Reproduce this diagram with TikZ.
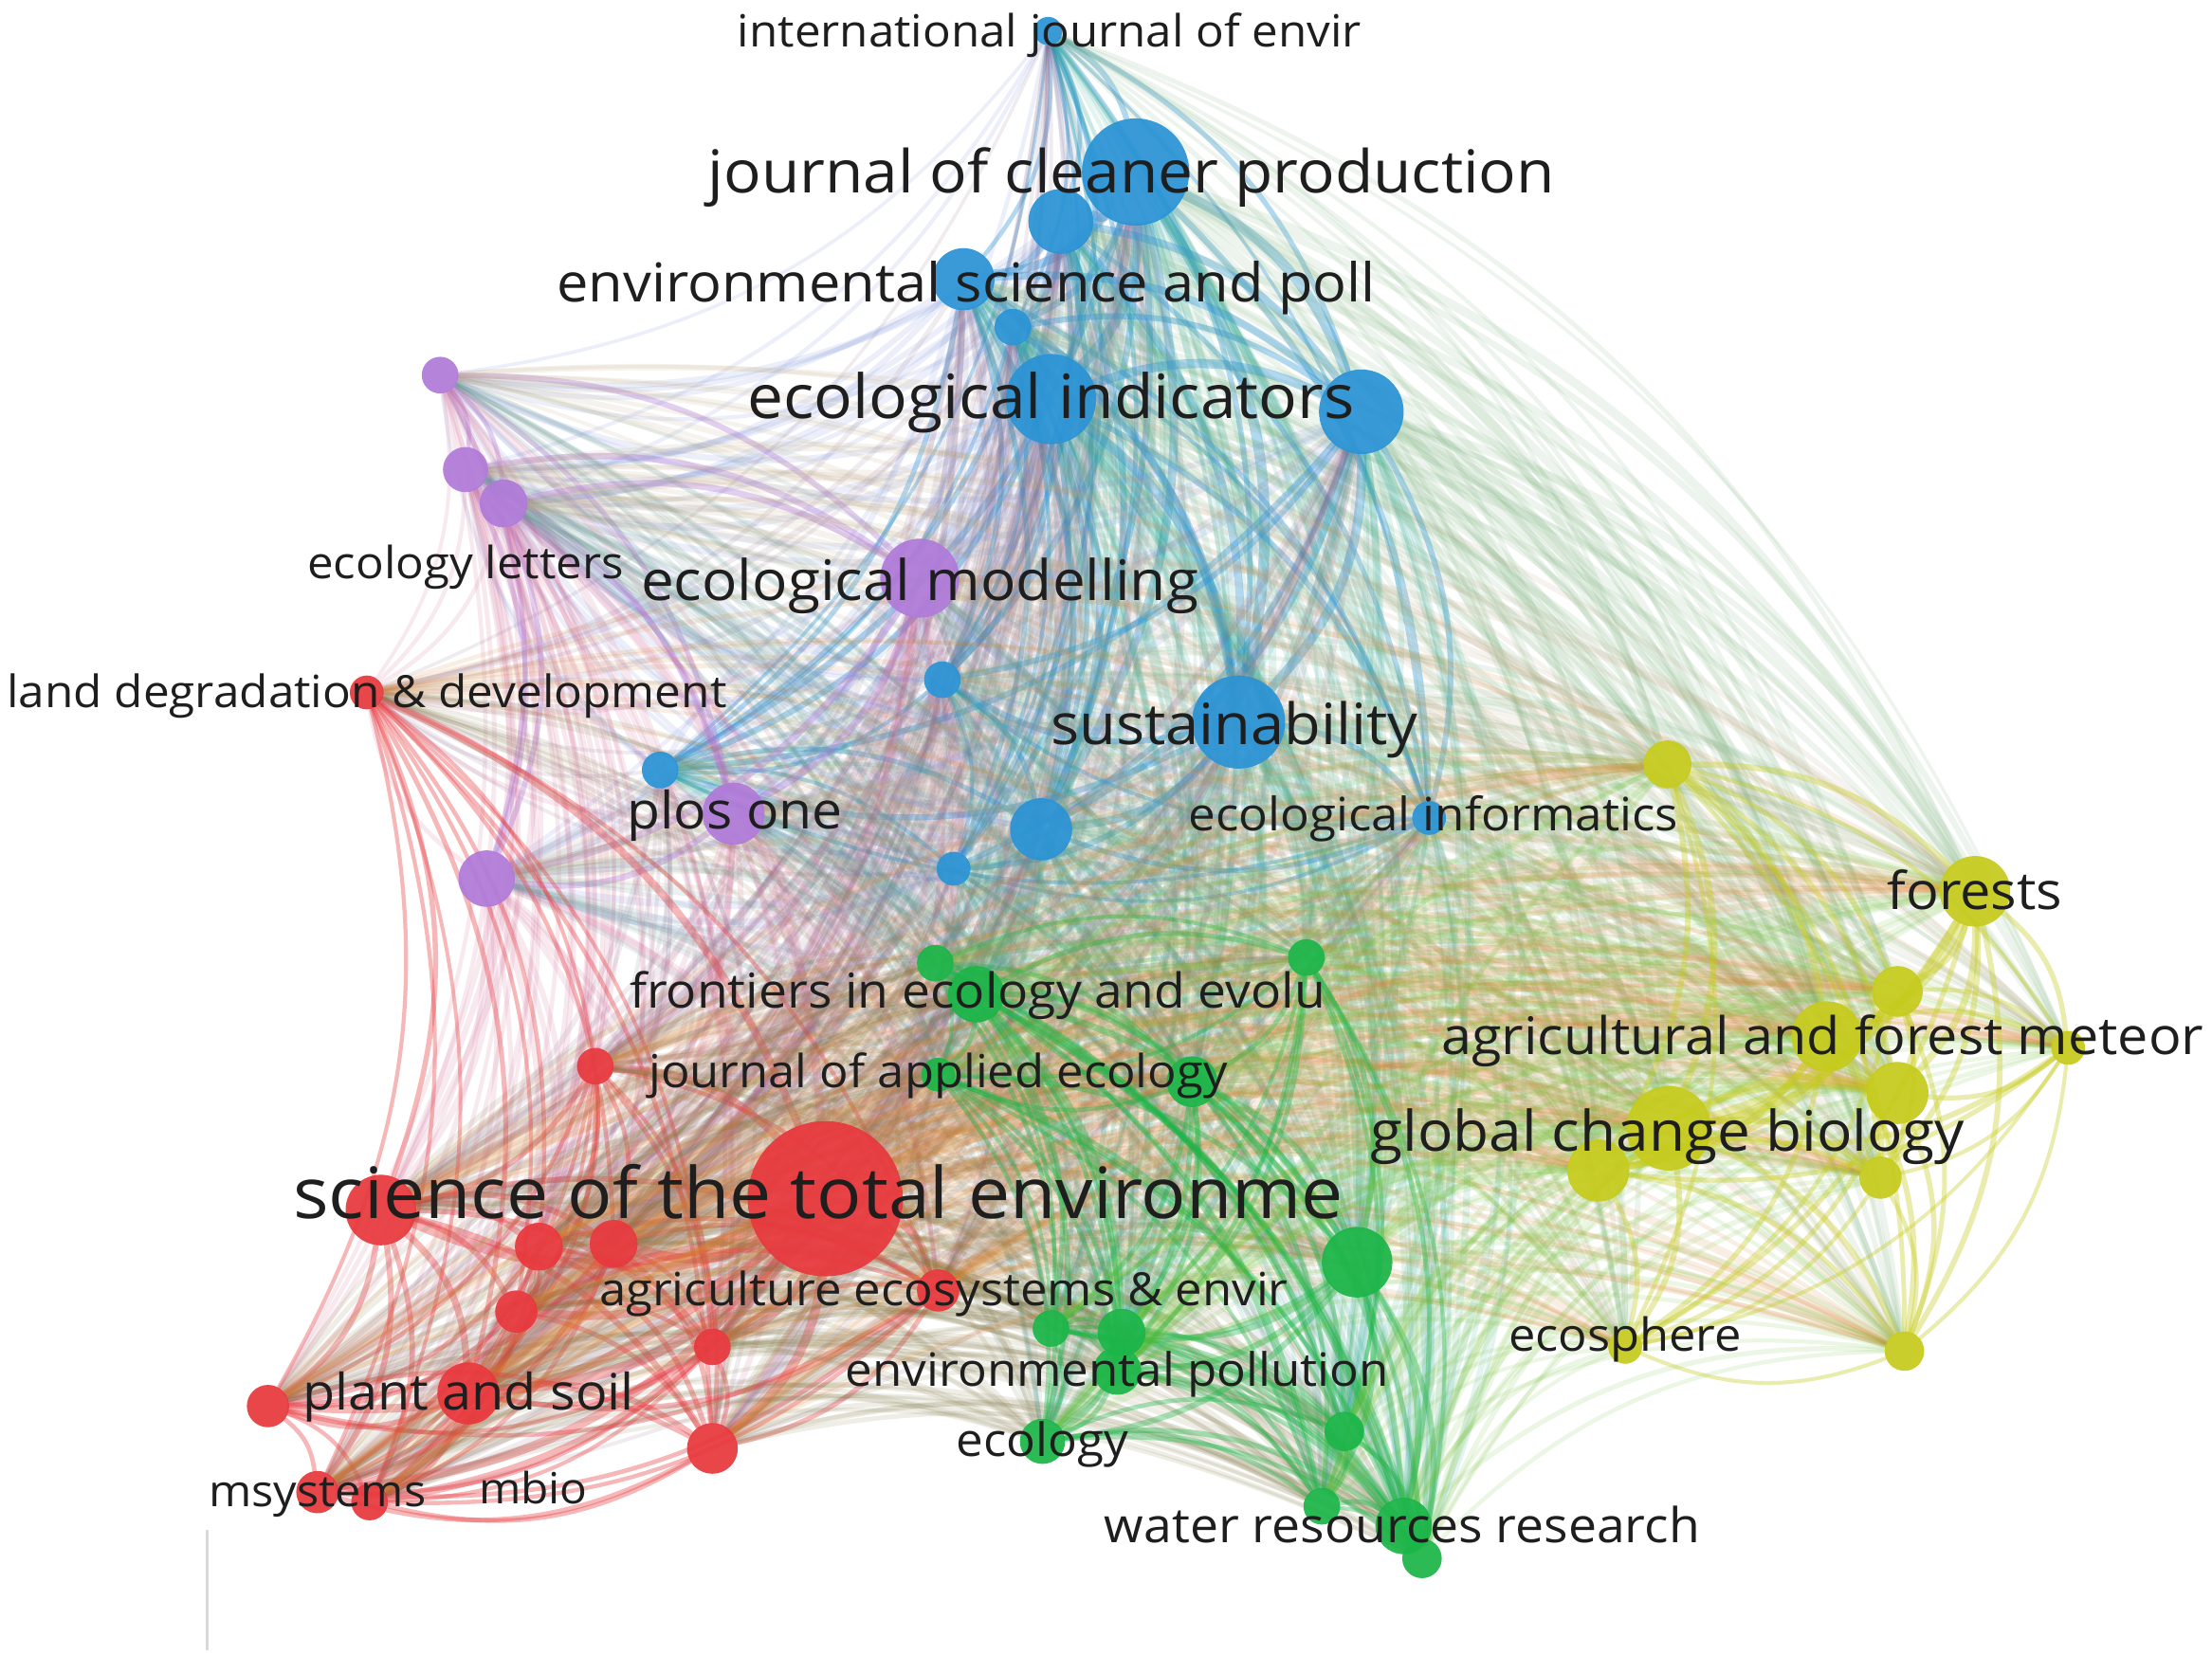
\documentclass[tikz,border=0pt]{standalone}
\usepackage{fontspec}
\setmainfont{Open Sans}
\definecolor{cr}{HTML}{E8383D}
\definecolor{cg}{HTML}{1BB548}
\definecolor{cb}{HTML}{2A93D5}
\definecolor{cy}{HTML}{C6CB1C}
\definecolor{cp}{HTML}{B07AD8}
\definecolor{ink}{HTML}{1E1E1E}
\pgfdeclarelayer{bg}
\pgfdeclarelayer{edges}
\pgfsetlayers{bg,edges,main}
\def\nodelist{b/1/743/22/10,b/2/805/122/38,b/3/752/157/23,b/4/683/198/22,b/5/718/232/13,b/6/745/283/32,b/7/965/292/30,b/8/878/512/33,b/9/1013/580/12,b/10/668/482/13,b/11/468/546/13,b/12/738/588/22,b/13/676/616/12,%
p/1/312/266/13,p/2/330/333/16,p/3/357/357/17,p/4/652/410/28,p/5/520/577/22,p/6/345/623/20,%
r/1/260/491/12,r/2/422/756/13,r/3/585/850/55,r/4/270/858/25,r/5/382/884/17,r/6/435/882/17,r/7/366/930/15,r/8/505/955/13,r/9/665/915/15,r/10/332/988/22,r/11/190/997/15,r/12/505/1027/18,r/13/225/1058/15,r/14/262/1065/13,%
g/1/663/683/13,g/2/692/705/20,g/3/926/679/13,g/4/845/767/18,g/5/665/762/12,g/6/962/895/25,g/7/745/942/13,g/8/795/945/17,g/9/792/972/17,g/10/739/1022/16,g/11/953/1015/14,g/12/937/1068/13,g/13/995/1082/20,g/14/1008/1105/14,%
y/1/1182/542/17,y/2/1400/632/25,y/3/1345/703/18,y/4/1295/735/25,y/5/1466/743/12,y/6/1183/800/30,y/7/1133/830/22,y/8/1345/775/22,y/9/1333/835/15,y/10/1350/958/14,y/11/1152/955/12}
\newcommand\lab[5]{\node[lbl] (#1) at (#2,#3) {\resizebox{#4mm}{!}{\scalebox{1}[0.95]{#5}}};}
\begin{document}
\begin{tikzpicture}[x=0.01cm,y=-0.01cm,
  dot/.style={circle,inner sep=0pt,draw=none,opacity=0.93},
  lbl/.style={text=ink,inner sep=0pt,anchor=base},
  edge/.style={line cap=round}]
\begin{pgfonlayer}{bg}
\fill[white] (0,0) rectangle (1568,1186);
\end{pgfonlayer}
\useasboundingbox (0,0) rectangle (1568,1186);
% nodes
\foreach \c/\n/\x/\y/\r in \nodelist {
  \node[dot,fill=c\c,minimum size=2*\r*0.1mm] (\c\n) at (\x,\y) {};
}
% links
\begin{pgfonlayer}{edges}
\foreach \ca/\na/\xa/\ya/\ra [count=\i] in \nodelist {
  \foreach \cb/\nb/\xb/\yb/\rb [count=\j] in \nodelist {
    \ifnum\j>\i
      \pgfmathsetmacro\lw{0.06*sqrt(\ra*\rb)}
      \ifx\ca\cb\def\op{0.36}\else\def\op{0.13}\fi
      \draw[edge,line width=\lw pt,draw=c\ca!50!c\cb,opacity=\op] (\ca\na) to[bend left=22] (\cb\nb);
    \fi
  }
}
\draw[gray!30,line width=0.5pt] (147,1085) -- (147,1170);
\end{pgfonlayer}
% labels
\lab{l1}{744}{33}{44.2}{international journal of envir}
\lab{l2}{802}{137}{60.0}{journal of cleaner production}
\lab{l3}{685}{214}{58.0}{environmental science and poll}
\lab{l4}{745}{297}{43.0}{ecological indicators}
\lab{l5}{330}{410}{22.4}{ecology letters}
\lab{l6}{652}{426}{39.5}{ecological modelling}
\lab{l7}{260}{502}{51.0}{land degradation \& development}
\lab{l8}{875}{528}{26.0}{sustainability}
\lab{l9}{521}{588}{15.3}{plos one}
\lab{l10}{1016}{589}{34.7}{ecological informatics}
\lab{l11}{1400}{645}{12.4}{forests}
\lab{l12}{693}{715}{49.3}{frontiers in ecology and evolu}
\lab{l13}{1292}{748}{54.0}{agricultural and forest meteor}
\lab{l14}{665}{771}{41.0}{journal of applied ecology}
\lab{l15}{1182}{816}{42.1}{global change biology}
\lab{l16}{580}{864}{74.4}{science of the total environme}
\lab{l17}{669}{926}{48.8}{agriculture ecosystems \& envir}
\lab{l18}{1152}{958}{16.5}{ecosphere}
\lab{l19}{792}{983}{38.5}{environmental pollution}
\lab{l20}{332}{1000}{23.5}{plant and soil}
\lab{l21}{739}{1033}{12.2}{ecology}
\lab{l22}{225}{1068}{15.4}{msystems}
\lab{l23}{378}{1066}{7.7}{mbio}
\lab{l24}{994}{1094}{42.2}{water resources research}
\end{tikzpicture}
\end{document}
